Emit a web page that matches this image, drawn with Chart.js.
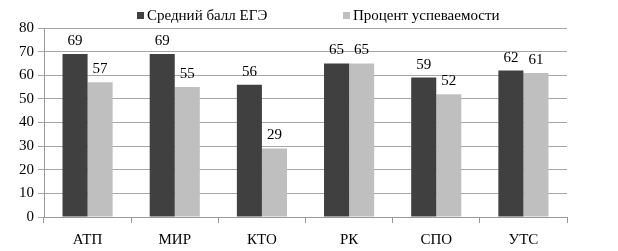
<!DOCTYPE html>
<html><head><meta charset="utf-8">
<script src="https://cdn.jsdelivr.net/npm/chart.js@4"></script>
<style>html,body{margin:0;padding:0;background:#fff}#w{width:618px;height:251px}</style>
</head><body><div id="w"><canvas id="c"></canvas></div>
<script>
const categories = ["АТП","МИР","КТО","РК","СПО","УТС"];
const egeScores = [69,69,56,65,59,62];
const passRates = [57,55,29,65,52,61];
const seriesNames = ["Средний балл ЕГЭ","Процент успеваемости"];
const yTicks = [0,10,20,30,40,50,60,70,80];
const seriesColors = ['#404040','#bfbfbf'];

const FONT = "'Liberation Serif'";
Chart.defaults.font.family = FONT;
Chart.defaults.font.size = 15;
Chart.defaults.color = '#000';

const labelPlugin = {
  id:'vals',
  afterDatasetsDraw(chart){
    const ctx = chart.ctx;
    ctx.save();
    ctx.font = "15px " + FONT;
    ctx.fillStyle = "#000";
    ctx.textAlign = "center";
    ctx.textBaseline = "alphabetic";
    chart.data.datasets.forEach((ds,i)=>{
      chart.getDatasetMeta(i).data.forEach((bar,j)=>{
        ctx.fillText(String(ds.data[j]), bar.x, bar.y - 9);
      });
    });
    ctx.restore();
  }
};
const legendPlugin = {
  id:'customLegend',
  afterDraw(chart){
    const ctx = chart.ctx;
    const starts = [137, 343];
    ctx.save();
    ctx.font = "15px " + FONT;
    ctx.textBaseline = "alphabetic";
    ctx.textAlign = "left";
    chart.data.datasets.forEach((ds,i)=>{
      const x = starts[i];
      ctx.fillStyle = ds.backgroundColor;
      ctx.fillRect(x, 12, 7, 7);
      ctx.fillStyle = '#000';
      ctx.fillText(ds.label, x + 10, 20);
    });
    ctx.restore();
  }
};
new Chart(document.getElementById('c'),{
  type:'bar',
  data:{labels:categories,datasets:[
    {label:seriesNames[0],data:egeScores,backgroundColor:seriesColors[0]},
    {label:seriesNames[1],data:passRates,backgroundColor:seriesColors[1]}
  ]},
  options:{
    responsive:true,maintainAspectRatio:false,animation:false,
    layout:{padding:{left:0,right:51,top:28,bottom:0}},
    datasets:{bar:{categoryPercentage:0.575,barPercentage:1}},
    plugins:{legend:{display:false},tooltip:{enabled:false}},
    scales:{
      x:{grid:{display:true,drawOnChartArea:false,offset:true,tickLength:6,color:'#999999'},
         border:{color:'#999999'},
         afterFit(s){s.height=34;},
         ticks:{font:{family:FONT,size:15},color:'#000',padding:8}},
      y:{min:0,max:80,afterBuildTicks(s){s.ticks=yTicks.map(v=>({value:v}));},
         afterFit(s){s.width=44;},
         grid:{color:'#a6a6a6',tickLength:6},
         border:{color:'#999999'},
         ticks:{font:{family:FONT,size:15},color:'#000',padding:4}}
    }
  },
  plugins:[labelPlugin, legendPlugin]
});
</script></body></html>
